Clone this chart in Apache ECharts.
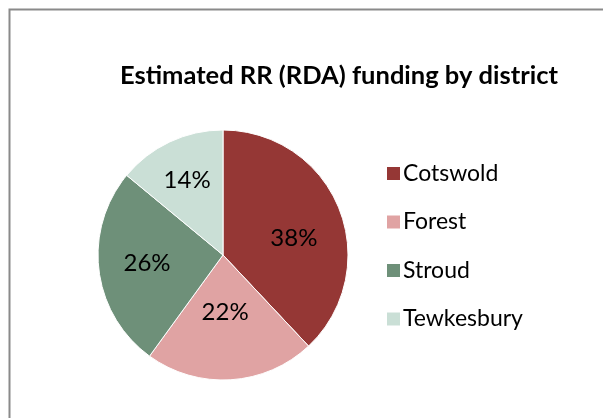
<!DOCTYPE html>
<html>
<head>
<meta charset="utf-8">
<script src="https://cdn.jsdelivr.net/npm/echarts@6/dist/echarts.min.js"></script>
<style>
html,body{margin:0;padding:0;background:#fff;}
#main{width:603px;height:418px;}
</style>
</head>
<body>
<div id="main"></div>
<script>
const titleText = 'Estimated RR (RDA) funding by district';
const districts = ['Cotswold', 'Forest', 'Stroud', 'Tewkesbury'];
const shares = [38, 22, 26, 14];
const colors = ['#953735', '#E0A3A3', '#6E9079', '#CADFD6'];

const labelShift = [[10, 7], [-2, -8], [-11, 0], [-8, -15]];

const chart = echarts.init(document.getElementById('main'), null, {renderer: 'canvas'});
const FONT = 'Lato';
chart.setOption({
  backgroundColor: '#fff',
  animation: false,
  title: {
    text: titleText,
    left: 334, top: 58, textAlign: 'center',
    textStyle: {fontFamily: FONT, fontWeight: 'bold', fontSize: 25.5, color: '#000'}
  },
  graphic: [{
    type: 'rect', shape: {x: 9.5, y: 9.5, width: 800, height: 600},
    style: {fill: 'none', stroke: '#8a8a8a', lineWidth: 2}, silent: true
  }],
  legend: {
    orient: 'vertical', left: 380, top: 157,
    itemWidth: 15, itemHeight: 15, itemGap: 25.5,
    icon: 'rect',
    textStyle: {fontFamily: FONT, fontSize: 23, lineHeight: 23, color: '#000', padding: [0,0,0,-3]},
    data: districts
  },
  series: [{
    type: 'pie',
    center: [223, 255], radius: 125,
    startAngle: 90, clockwise: true,
    itemStyle: {borderColor: '#fff', borderWidth: 1},
    label: {
      position: 'inside', formatter: '{d}%',
      fontFamily: FONT, fontSize: 24, color: '#000'
    },
    labelLayout: function (p) {
      const s = labelShift[p.dataIndex];
      return {dx: s[0], dy: s[1]};
    },
    labelLine: {show: false},
    emphasis: {disabled: true},
    data: districts.map((n, i) => ({
      name: n, value: shares[i],
      itemStyle: {color: colors[i]}
    }))
  }]
});
</script>
</body>
</html>
